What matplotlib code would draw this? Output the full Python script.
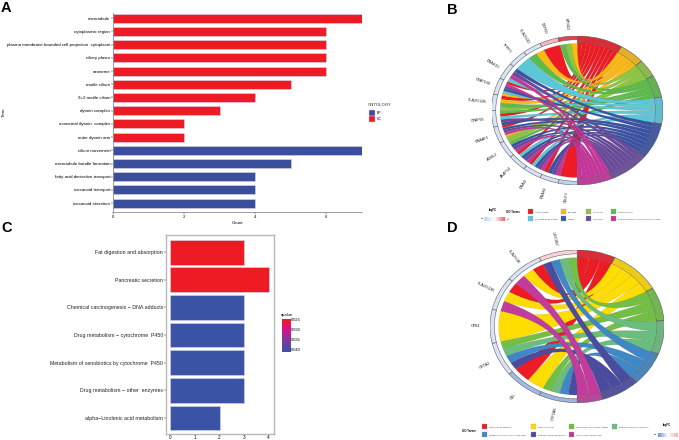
import numpy as np
import matplotlib
matplotlib.use('Agg')
import matplotlib.pyplot as plt
from matplotlib.path import Path
from matplotlib.patches import PathPatch, Wedge, Rectangle
from matplotlib.colors import LinearSegmentedColormap, to_rgb

plt.rcParams['font.family'] = ['Liberation Sans', 'DejaVu Sans']

W, H = 679, 440

# panel A
go_terms = ['microtubule', 'cytoplasmic region', 'plasma membrane bounded cell projection  cytoplasm',
            'ciliary plasm', 'axoneme', 'motile cilium', '9+2 motile cilium', 'dynein complex',
            'axonemal dynein  complex', 'outer dynein arm', 'cilium movement',
            'microtubule bundle formation', 'fatty acid derivative transport',
            'icosanoid transport', 'icosanoid secretion']
go_counts = [7, 6, 6, 6, 6, 5, 4, 3, 2, 2, 7, 5, 4, 4, 4]
go_ontology = ['CC'] * 10 + ['BP'] * 5

# panel C
kegg_terms = ['Fat digestion and absorption', 'Pancreatic secretion',
              'Chemical carcinogenesis \u2212 DNA adducts', 'Drug metabolism \u2212 cytochrome  P450',
              'Metabolism of xenobiotics by cytochrome  P450', 'Drug metabolism \u2212 other  enzymes',
              'alpha\u2212Linolenic acid metabolism']
kegg_counts = [3, 4, 3, 3, 3, 3, 2]
kegg_q = [0.0245, 0.0245, 0.041, 0.041, 0.041, 0.041, 0.041]
q_ticks = [0.025, 0.030, 0.035, 0.040]

# panel B, genes clockwise from the bottom, links in order along each gene
b_terms = ['cilium movement', 'microtubule', 'motile cilium', 'cytoplasmic region',
           'microtubule bundle formation', 'axoneme', 'ciliary plasm',
           'plasma membrane bounded cell projection cytoplasm']
b_colors = ['#ED1C24', '#FDB913', '#8DC63F', '#5DBB4A', '#5CC8D7', '#3A53A4', '#6A4A9C', '#C6359B']
b_genes = ['CELF3', 'DNAH8', 'DNAI2', 'AKAP14', 'AGBL2', 'DNAAF1', 'CFAP65', 'PLA2G12B',
           'CFAP100', 'DNAH10', 'TPPP3', 'PLA2G2D', 'DEFB1', 'MFSD2']
b_logfc = [-1.6, -1.1, -1.0, -1.1, -1.0, -1.0, -1.0, -1.0, -1.0, -1.0, -1.0, -1.0, 1.6, 4.2]
b_links = [[0], [7, 6, 5, 0], [7, 6, 5, 4, 0], [7, 6, 5, 4, 0], [7, 6, 5, 3, 2],
           [2, 1, 7, 6, 5, 0], [5, 6, 4, 0, 3], [2, 3, 1, 0], [1, 4, 5, 6, 7, 0],
           [4, 7, 6, 5], [4], [3, 1], [0], [3, 2, 1]]

# panel D
d_terms = ['Fat digestion and absorption', 'Pancreatic secretion',
           'Chemical carcinogenesis \u2212 DNA adducts', 'Drug metabolism \u2212 cytochrome P450',
           'Metabolism of xenobiotics by cytochrome P450', 'Drug metabolism \u2212 other enzymes',
           'alpha\u2212Linolenic acid metabolism']
d_colors = ['#ED1C24', '#FFDD00', '#72BF44', '#6ABD7C', '#3F88C5', '#4B4BA0', '#C23D9B']
d_genes = ['CYP2A6', 'CEL', 'GSTA2', 'CPB1', 'PLA2G12B', 'PLA2G1B', 'UGT2B7']
d_logfc = [-2.6, -2.4, -1.0, -1.0, -1.0, -1.0, 1.0]
d_links = [[5, 4, 3, 2], [1, 0], [5, 4, 3, 2], [1], [6, 1, 0], [6, 1, 0], [5, 4, 3, 2]]

RED = '#ED1C24'
BLUE = '#3A4E9C'


def px_axes(left, top, right, bottom):
    return fig.add_axes([left / W, 1 - bottom / H, (right - left) / W, (bottom - top) / H])


def pol(theta, r=1.0):
    # theta in degrees clockwise from the top
    t = np.radians(theta)
    return np.column_stack([r * np.sin(t), r * np.cos(t)])


def ring(ax, t1, t2, r_in, color):
    # Wedge angles run anticlockwise from +x
    ax.add_patch(Wedge((0, 0), 1.0, 90 - t2, 90 - t1, width=1.0 - r_in,
                       facecolor=color, edgecolor='#50505a', lw=0.35))


def ribbon(ax, g1, g2, t1, t2, color):
    gene_arc = pol(np.linspace(g1, g2, 12), 0.90)
    term_arc = pol(np.linspace(t1, t2, 8), 0.91)
    verts = list(gene_arc) + [(0, 0), term_arc[0]] + list(term_arc[1:]) + [(0, 0), gene_arc[0]]
    codes = [Path.MOVETO] + [Path.LINETO] * 11 + [Path.CURVE3, Path.CURVE3] \
        + [Path.LINETO] * 7 + [Path.CURVE3, Path.CURVE3]
    ax.add_patch(PathPatch(Path(verts, codes), facecolor=color, edgecolor='#40404055', lw=0.2))


def chord(rect, genes, logfc, links, colors, fc_cmap, fc_max):
    ax = px_axes(*rect)
    ax.set_xlim(-1, 1)
    ax.set_ylim(-1, 1)
    ax.axis('off')
    n_terms = len(colors)
    per_term = [sum(t in g for g in links) for t in range(n_terms)]
    unit = 180 / sum(per_term)
    # term side
    term_start = np.concatenate([[0], np.cumsum(per_term)]) * unit
    for t, c in enumerate(colors):
        mix = np.array(to_rgb(c)) * 0.82 + np.array([0.5, 0.5, 0.55]) * 0.18
        ring(ax, term_start[t], term_start[t + 1], 0.91, mix)
    next_slot = [0] * n_terms
    span = 180 / len(genes)
    # strips along a term run from the top gene downwards
    slots = {}
    for g in range(len(genes) - 1, -1, -1):
        for t in links[g]:
            slots[(g, t)] = next_slot[t]
            next_slot[t] += 1
    for g, name in enumerate(genes):
        a = 180 + g * span
        ring(ax, a, a + span, 0.95, fc_cmap(0.5 + logfc[g] / (2 * fc_max)))
        mid = np.radians(a + span / 2)
        rot = 90 - (a + span / 2) + 180
        ax.text(1.17 * np.sin(mid), 1.17 * np.cos(mid), name, fontsize=2.7, color='#222222',
                rotation=rot, rotation_mode='anchor', ha='center', va='center')
    for t in range(n_terms):
        for g in range(len(genes)):
            if t in links[g]:
                a = 180 + g * span
                w = span / len(links[g])
                i = links[g].index(t)
                s = term_start[t] + slots[(g, t)] * unit
                ribbon(ax, a + i * w, a + (i + 1) * w, s, s + unit, colors[t])
    return ax


def go_legend(ax, x_cols, y_rows, terms, colors):
    for i, (name, c) in enumerate(zip(terms, colors)):
        x = x_cols[i % 4]
        y = y_rows[i // 4]
        ax.add_patch(Rectangle((x - 2.5, y - 2.5), 5, 5, facecolor=c, edgecolor='#999999', lw=0.2))
        ax.text(x + 4.7, y, name, fontsize=1.3, va='center', ha='left', color='#333333')


fig = plt.figure(figsize=(W / 100, H / 100), dpi=100, facecolor='white')

# A
ax = px_axes(113, 13, 362, 211.7)
y = np.arange(len(go_terms))
ax.barh(y, go_counts, height=0.68, color=[RED if o == 'CC' else BLUE for o in go_ontology],
        edgecolor='#d8d8ee', lw=0.4)
ax.set_ylim(len(go_terms) - 0.35, -0.4)
ax.set_xlim(0, 7)
ax.set_yticks(y, go_terms, fontsize=3.2)
ax.set_xticks([0, 2, 4, 6])
ax.tick_params(axis='x', labelsize=3.1, length=1.2, width=0.3, pad=1)
ax.tick_params(axis='y', length=1.2, width=0.3, pad=0.8)
for s in ['top', 'right']:
    ax.spines[s].set_visible(False)
for s in ['left', 'bottom']:
    ax.spines[s].set_linewidth(0.5)
    ax.spines[s].set_color('#777777')
ax.set_xlabel('Count', fontsize=3.2, labelpad=1.5)

# C
ax = px_axes(166, 235, 274, 434)
cq = LinearSegmentedColormap.from_list('q', [RED, '#D1148C', '#7A3A9C', '#3B53A4'])
qn = lambda q: (q - 0.0245) / (0.041 - 0.0245)
y = np.arange(len(kegg_terms))
ax.barh(y, kegg_counts, height=0.9, color=[cq(qn(q)) for q in kegg_q], edgecolor='#d5d8ee', lw=0.4)
ax.set_ylim(len(kegg_terms) - 0.42, -0.62)
ax.set_xlim(-0.18, 4.22)
ax.set_yticks(y, kegg_terms, fontsize=3.75, color='#222222')
ax.set_xticks([0, 1, 2, 3, 4])
ax.tick_params(axis='x', labelsize=3.3, length=0.6, width=0.3, pad=0)
ax.tick_params(axis='y', length=1.2, width=0.3, pad=0.8)
for s in ax.spines.values():
    s.set_linewidth(1.0)
    s.set_color('#b8b8b8')

# C colour bar
cax = px_axes(281.7, 319, 290, 351.7)
grad = np.linspace(0, 1, 64).reshape(-1, 1)
cax.imshow(grad, aspect='auto', cmap=cq, extent=[0, 1, 0.041, 0.0245])
cax.set_xticks([])
cax.yaxis.tick_right()
cax.set_yticks(q_ticks, ['%.3f' % q for q in q_ticks], fontsize=2.9)
cax.tick_params(axis='y', length=0, pad=0.8)
for s in cax.spines.values():
    s.set_visible(False)

# chord panels
fc_cmap = LinearSegmentedColormap.from_list('fc', ['#3F72C4', '#FFFFFF', '#E0202C'])
chord((491.5, 36, 663, 185), b_genes, b_logfc, b_links, b_colors, fc_cmap, 5)
chord((490, 250, 664.3, 402.7), d_genes, d_logfc, d_links, d_colors, fc_cmap, 5)

# overlay in pixel coordinates for panel letters and legends
ov = fig.add_axes([0, 0, 1, 1], facecolor='none')
ov.set_xlim(0, W)
ov.set_ylim(H, 0)
ov.axis('off')
for label, x, yy in [('A', 1, 12), ('B', 447, 14), ('C', 1, 232), ('D', 447, 232)]:
    ov.text(x, yy, label, fontsize=10.5, fontweight='bold', ha='left', va='baseline')

ov.text(3.5, 112, 'Term', fontsize=3.2, rotation=90, ha='center', va='center')
ov.text(368, 105, 'ONTOLOGY', fontsize=3.0, ha='left', va='center', color='#222222')
ov.add_patch(Rectangle((368.5, 110), 6, 6, facecolor=BLUE, edgecolor='#d8d8ee', lw=0.3))
ov.add_patch(Rectangle((368.5, 116.5), 6, 6, facecolor=RED, edgecolor='#d8d8ee', lw=0.3))
ov.text(377, 112.5, 'BP', fontsize=2.5, va='center')
ov.text(377, 119, 'CC', fontsize=2.5, va='center')
ov.text(281, 314.7, 'qvalue', fontsize=3.1, va='center')

ov.text(513, 212, 'GO Terms', fontsize=2.1, fontweight='bold', ha='center', va='center')
go_legend(ov, [530, 563, 588, 613], [212, 219], b_terms, b_colors)
ov.text(493, 210, 'logFC', fontsize=2.1, fontweight='bold', ha='center', va='center')
ov.imshow(np.linspace(0, 1, 64).reshape(1, -1), cmap=LinearSegmentedColormap.from_list(
    'fcb', ['#BFD6F0', '#FFFFFF', '#F0606A']), extent=[484, 505, 221, 217], aspect='auto')
ov.text(482, 219, '\u2212', fontsize=2.5, ha='center', va='center')
ov.text(507.5, 219, '+', fontsize=2.5, ha='center', va='center')

ov.text(469, 431, 'GO Terms', fontsize=2.1, fontweight='bold', ha='center', va='center')
go_legend(ov, [484.5, 533, 571, 614], [427, 435], d_terms, d_colors)
ov.text(667, 425, 'logFC', fontsize=2.1, fontweight='bold', ha='center', va='center')
ov.imshow(np.linspace(0, 1, 64).reshape(1, -1), cmap=LinearSegmentedColormap.from_list(
    'fcd', ['#6E93D6', '#FFFFFF', '#F7B0B0']), extent=[658, 678, 437, 433], aspect='auto')
ov.text(655, 435, '\u2212', fontsize=2.5, ha='center', va='center')
ov.set_xlim(0, W)
ov.set_ylim(H, 0)

fig.savefig('out.png', dpi=100)
